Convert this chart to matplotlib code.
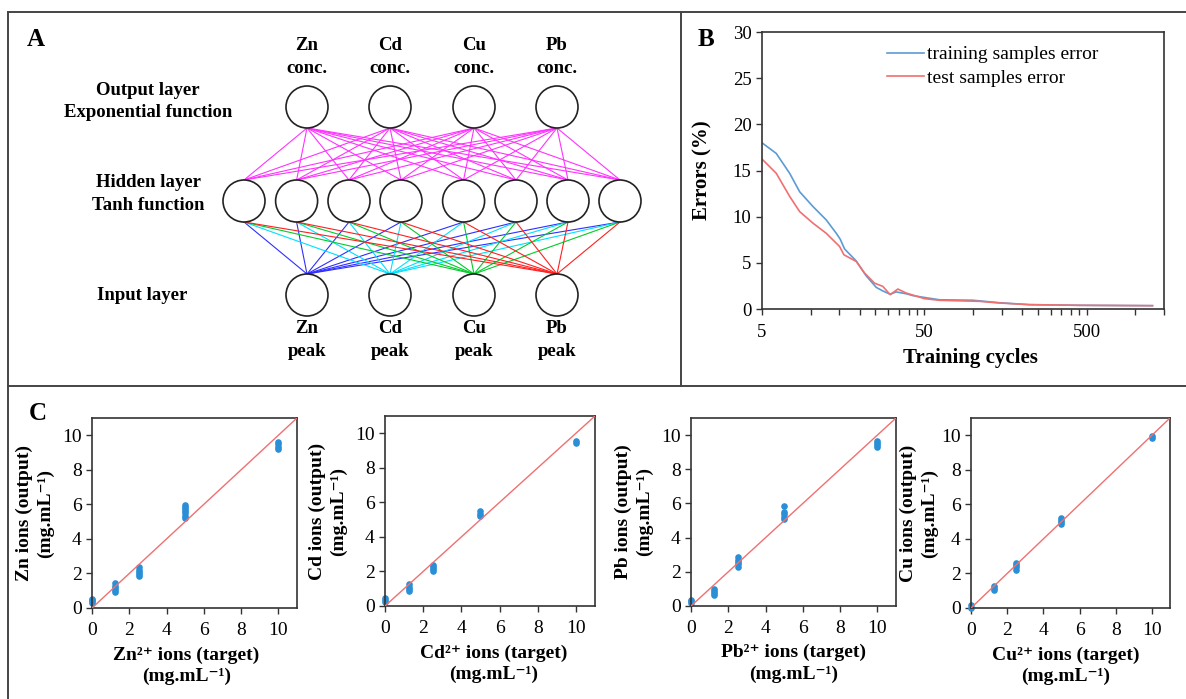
#%% ANN figure: network sketch, training errors, target vs output
import matplotlib
matplotlib.use('Agg')
import matplotlib.pyplot as plt
from matplotlib.patches import Circle
from matplotlib.ticker import FixedLocator, NullFormatter

plt.rcParams['font.family'] = ['Liberation Serif', 'DejaVu Serif']

#%% Data
ions = ['Zn', 'Cd', 'Cu', 'Pb']
input_colors = ['#2f2fff', '#00e0ff', '#00cc2a', '#ff2020']
n_hidden = 8

# panel B, errors vs training cycles
train_cycles = [5, 6.12, 7.40, 8.53, 10.3, 12.44, 14.34, 15.17, 16.14, 19.04, 21.9,
                25.25, 27.8, 30.8, 33.55, 38.7, 42.5, 50.1, 62.0, 99.4, 145, 222, 451, 1274]
train_error = [18.0, 16.85, 14.7, 12.7, 11.1, 9.65, 8.2, 7.56, 6.5, 5.2, 3.6,
               2.35, 1.95, 1.6, 1.85, 1.65, 1.45, 1.25, 1.0, 0.95, 0.68, 0.47, 0.40, 0.36]
test_cycles = [5, 6.12, 7.40, 8.53, 10.3, 12.44, 15.03, 15.99, 19.04, 21.41, 24.67,
               27.76, 30.81, 34.34, 38.66, 50.1, 62.0, 109.3, 145, 222, 451, 1274]
test_error = [16.24, 14.7, 12.2, 10.55, 9.3, 8.2, 6.77, 5.87, 5.15, 3.9, 2.8,
              2.45, 1.55, 2.16, 1.73, 1.12, 0.94, 0.83, 0.65, 0.47, 0.40, 0.36]

# panel C, target vs network output (mg/mL)
zn_target = [0, 0, 0, 0, 1.25, 1.25, 1.25, 1.25, 1.25, 2.5, 2.5, 2.5, 2.5, 2.5,
             5, 5, 5, 5, 5, 5, 5, 10, 10, 10, 10]
zn_output = [0.30, 0.38, 0.46, 0.55, 0.90, 1.04, 1.17, 1.30, 1.42, 1.85, 1.98, 2.10, 2.22, 2.38,
             5.22, 5.35, 5.48, 5.60, 5.72, 5.85, 5.98, 9.22, 9.35, 9.48, 9.60]
cd_target = [0, 0, 0, 1.25, 1.25, 1.25, 1.25, 2.5, 2.5, 2.5, 2.5, 5, 5, 5, 10, 10]
cd_output = [0.25, 0.36, 0.48, 0.85, 0.98, 1.12, 1.28, 2.00, 2.12, 2.25, 2.40,
             5.20, 5.33, 5.48, 9.42, 9.55]
pb_target = [0, 0, 0, 1.25, 1.25, 1.25, 1.25, 2.5, 2.5, 2.5, 2.5, 2.5,
             5, 5, 5, 5, 5, 10, 10, 10, 10]
pb_output = [0.15, 0.27, 0.38, 0.62, 0.74, 0.86, 0.98, 2.30, 2.44, 2.58, 2.72, 2.86,
             5.08, 5.22, 5.36, 5.50, 5.85, 9.30, 9.43, 9.56, 9.68]
cu_target = [0, 0, 1.25, 1.25, 1.25, 2.5, 2.5, 2.5, 2.5, 5, 5, 5, 5, 10, 10]
cu_output = [0.02, 0.15, 1.06, 1.17, 1.28, 2.22, 2.35, 2.48, 2.62, 4.86, 4.98, 5.10, 5.22,
             9.82, 9.95]

panel_c = [
    ('Zn', zn_target, zn_output),
    ('Cd', cd_target, cd_output),
    ('Pb', pb_target, pb_output),
    ('Cu', cu_target, cu_output),
]

#%% Figure
W, H = 1186, 699
fig = plt.figure(figsize=(W / 100, H / 100), dpi=100)

# pixel canvas for frames, letters and the network sketch
ax0 = fig.add_axes([0, 0, 1, 1])
ax0.set_xlim(0, W)
ax0.set_ylim(H, 0)
ax0.axis('off')

frame = dict(color='#444444', lw=1.4)
ax0.plot([8, W], [12, 12], **frame)
ax0.plot([8, 8], [12, H], **frame)
ax0.plot([681, 681], [12, 386], **frame)
ax0.plot([8, W], [386, 386], **frame)

for letter, x, y in [('A', 36, 40), ('B', 706, 40), ('C', 38, 414)]:
    ax0.text(x, y, letter, fontsize=18, fontweight='bold', ha='center', va='center')

# network
r = 21
io_x = [307, 390, 474, 557]
hid_x = [244, 296.6, 349, 401, 463.6, 516, 568, 620]
out_y, hid_y, in_y = 107, 201, 295

for xo in io_x:
    for xh in hid_x:
        ax0.plot([xo, xh], [out_y + r, hid_y - r], color='#ff33ff', lw=0.8)
for xi, c in zip(io_x, input_colors):
    for xh in hid_x:
        ax0.plot([xi, xh], [in_y - r, hid_y + r], color=c, lw=0.8)

for xo in io_x:
    ax0.add_patch(Circle((xo, out_y), r, fc='white', ec='#222222', lw=1.2, zorder=3))
    ax0.add_patch(Circle((xo, in_y), r, fc='white', ec='#222222', lw=1.2, zorder=3))
for xh in hid_x:
    ax0.add_patch(Circle((xh, hid_y), r, fc='white', ec='#222222', lw=1.2, zorder=3))

lab = dict(fontsize=13.5, fontweight='bold', ha='center', va='center', linespacing=1.4)
for xo, ion in zip(io_x, ions):
    ax0.text(xo, 57, ion + '\nconc.', **lab)
    ax0.text(xo, 340, ion + '\npeak', **lab)
ax0.text(148, 101.5, 'Output layer\nExponential function', **lab)
ax0.text(148, 194, 'Hidden layer\nTanh function', **lab)
ax0.text(142, 295, 'Input layer', **lab)


def px_axes(x0, y0, x1, y1):
    return fig.add_axes([x0 / W, 1 - y1 / H, (x1 - x0) / W, (y1 - y0) / H])


def style(ax, size):
    for s in ax.spines.values():
        s.set_color('#333333')
        s.set_linewidth(1.2)
    ax.tick_params(direction='out', length=4, width=1, labelsize=size, color='#333333')


#%% Panel B
axb = px_axes(762, 32, 1164, 309)
style(axb, 13.5)
axb.plot(train_cycles, train_error, color='#5b9bd5', lw=1.2, label='training samples error')
axb.plot(test_cycles, test_error, color='#f07070', lw=1.2, label='test samples error')
axb.set_xscale('log')
axb.set_xlim(5, 1500)
axb.set_ylim(0, 30)
axb.set_yticks(range(0, 31, 5))
axb.set_xticks([5, 50, 500])
axb.set_xticklabels(['5', '50', '500'])
minor = [5 * k * d for d in (1, 10, 100) for k in range(2, 10) if 5 * k * d <= 1500]
axb.xaxis.set_minor_locator(FixedLocator(minor))
axb.xaxis.set_minor_formatter(NullFormatter())
axb.tick_params(which='minor', direction='out', length=4, width=1, color='#333333')
axb.tick_params(axis='x', pad=7)
axb.set_ylabel('Errors (%)', fontsize=15, fontweight='bold')
axb.yaxis.set_label_coords(-0.124, 0.5)
axb.set_xlabel('Training cycles', fontsize=15, fontweight='bold')
axb.xaxis.label.set_va('center')
axb.xaxis.set_label_coords(0.519, -0.177)
axb.legend(loc='upper left', bbox_to_anchor=(0.311, 0.95), frameon=False, fontsize=14,
           handlelength=1.9, handletextpad=0.15, borderpad=0, borderaxespad=0,
           labelspacing=0.3)

#%% Panel C
boxes = [(92, 418, 297, 608), (385, 416, 595, 606), (691, 418, 896, 606), (971, 418, 1170, 608)]
ylab_x = [-0.28, -0.27, -0.278, -0.262]
xlab_x = [0.46, 0.517, 0.5, 0.477]

for (ion, tgt, out), box, yx, xx in zip(panel_c, boxes, ylab_x, xlab_x):
    ax = px_axes(*box)
    style(ax, 14)
    ax.scatter(tgt, out, s=14, color='#2a8fd6', zorder=2, clip_on=False)
    ax.axline((0, 0), slope=1, color='#f07070', lw=1, zorder=3)
    ax.set_xlim(0, 11)
    ax.set_ylim(0, 11)
    ax.set_xticks(range(0, 11, 2))
    ax.set_yticks(range(0, 11, 2))
    ax.tick_params(axis='x', pad=6)
    ax.set_ylabel(ion + ' ions (output)\n(mg.mL\u207b\u00b9)', fontsize=14,
                  fontweight='bold', linespacing=1.3)
    ax.yaxis.label.set_va('center')
    ax.yaxis.set_label_coords(yx, 0.5)
    ax.set_xlabel(ion + '\u00b2\u207a ions (target)\n(mg.mL\u207b\u00b9)', fontsize=14,
                  fontweight='bold', linespacing=1.3)
    ax.xaxis.label.set_va('center')
    ax.xaxis.set_label_coords(xx, -0.305)

fig.savefig('out.png', dpi=100)
